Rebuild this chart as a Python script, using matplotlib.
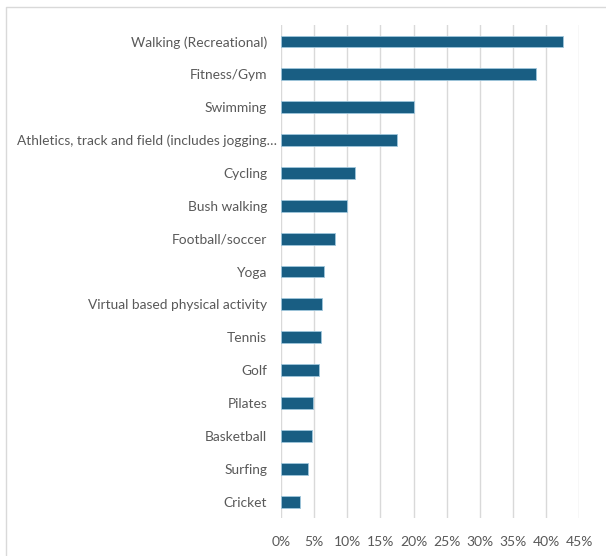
import matplotlib.pyplot as plt
from matplotlib.lines import Line2D
from matplotlib.ticker import PercentFormatter
from matplotlib.transforms import ScaledTranslation

activities = [
    "Walking (Recreational)",
    "Fitness/Gym",
    "Swimming",
    "Athletics, track and field (includes jogging\u2026",
    "Cycling",
    "Bush walking",
    "Football/soccer",
    "Yoga",
    "Virtual based physical activity",
    "Tennis",
    "Golf",
    "Pilates",
    "Basketball",
    "Surfing",
    "Cricket",
]
share = [0.426, 0.385, 0.200, 0.175, 0.112, 0.100, 0.081, 0.065,
         0.062, 0.061, 0.058, 0.048, 0.047, 0.041, 0.028]
x_ticks = [i * 0.05 for i in range(10)]

plt.rcParams['font.family'] = ['Lato', 'DejaVu Sans']

fig = plt.figure(figsize=(6.06, 5.56), dpi=100)
ax = fig.add_axes([0.4637, 0.0683, 0.4923, 0.8867])

pos = list(range(len(activities)))
ax.barh(pos, share, height=0.36, color='#195e83',
        edgecolor='#9fc6dc', linewidth=0.6, zorder=3)

ax.set_ylim(len(activities) - 0.5, -0.5)
ax.set_yticks(pos)
ax.set_yticklabels(activities, fontsize=9.9, color='#595959')
ax.set_xlim(0, 0.45)
ax.set_xticks(x_ticks)
ax.xaxis.set_major_formatter(PercentFormatter(1.0, decimals=0))
ax.tick_params(axis='x', labelsize=10, labelcolor='#595959', length=0, pad=13)
ax.tick_params(axis='y', length=0, pad=10)

# the long truncated label sits closer to the axis
long_label = ax.yaxis.get_major_ticks()[3].label1
long_label.set_transform(long_label.get_transform()
                         + ScaledTranslation(0.1, 0, fig.dpi_scale_trans))

ax.grid(axis='x', color='#d9d9d9', linewidth=1.0, zorder=0)
for side in ax.spines.values():
    side.set_visible(False)

# chart frame (only left and top edges fall inside the image)
fig.add_artist(Line2D([6 / 606, 6 / 606, 1], [0, 1 - 7 / 556, 1 - 7 / 556],
                      transform=fig.transFigure, color='#d9d9d9', linewidth=1.0))

fig.savefig('out.png', dpi=100)
